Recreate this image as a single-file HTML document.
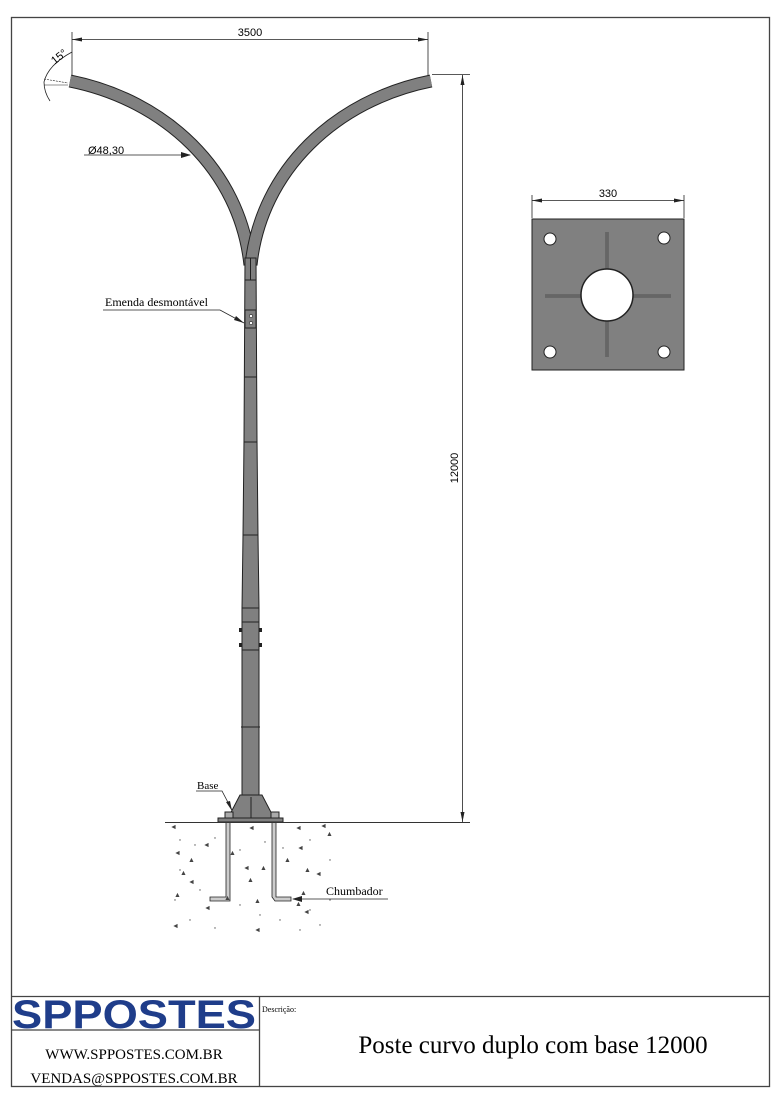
<!DOCTYPE html>
<html><head><meta charset="utf-8"><style>
body{margin:0;background:#fff;width:780px;height:1104px;overflow:hidden}
svg{display:block}
</style></head><body>
<svg width="780" height="1104" viewBox="0 0 780 1104" xmlns="http://www.w3.org/2000/svg" font-family="Liberation Sans, sans-serif">
<rect x="11.5" y="17.5" width="758" height="1069" fill="none" stroke="#444" stroke-width="1.3"/>
<line x1="11" y1="996.5" x2="770" y2="996.5" stroke="#444" stroke-width="1.3"/>
<line x1="259.5" y1="996" x2="259.5" y2="1087" stroke="#444" stroke-width="1.3"/>
<line x1="11" y1="1030" x2="259" y2="1030" stroke="#444" stroke-width="1.3"/>
<!-- logo -->
<text x="134" y="1028" text-anchor="middle" font-size="40" font-weight="bold" fill="#1f3d8a" font-family="Liberation Sans, sans-serif" textLength="244" lengthAdjust="spacingAndGlyphs">SPPOSTES</text>
<text x="134" y="1059" text-anchor="middle" font-size="15" font-family="Liberation Serif, serif">WWW.SPPOSTES.COM.BR</text>
<text x="134" y="1083" text-anchor="middle" font-size="15" font-family="Liberation Serif, serif">VENDAS@SPPOSTES.COM.BR</text>
<text x="262" y="1012" font-size="8" font-family="Liberation Serif, serif">Descrição:</text>
<text x="533" y="1053" text-anchor="middle" font-size="25" font-family="Liberation Serif, serif">Poste curvo duplo com base 12000</text>

<!-- arms -->
<path d="M70,81 C165,100 240,170 250,265" fill="none" stroke="#222" stroke-width="13"/>
<path d="M70,81 C165,100 240,170 250,265" fill="none" stroke="#808080" stroke-width="11"/>
<path d="M431,81 C336,100 261,170 251,265" fill="none" stroke="#222" stroke-width="13"/>
<path d="M431,81 C336,100 261,170 251,265" fill="none" stroke="#808080" stroke-width="11"/>
<!-- pole -->
<polygon points="245,258 256,258 257,440 258,535 259,608 259,805 262,812 240,812 242,805 242,608 243,535 244,440" fill="#808080" stroke="#222" stroke-width="1"/>
<line x1="250.5" y1="258" x2="250.5" y2="280" stroke="#222" stroke-width="1"/>
<g stroke="#222" stroke-width="1">
<line x1="245" y1="280" x2="256" y2="280"/>
<line x1="244" y1="377" x2="257" y2="377"/>
<line x1="244" y1="442" x2="257" y2="442"/>
<line x1="243" y1="535" x2="258" y2="535"/>
<line x1="242" y1="608" x2="259" y2="608"/>
<line x1="242" y1="622" x2="259" y2="622"/>
<line x1="242" y1="650" x2="259" y2="650"/>
<line x1="241" y1="727" x2="260" y2="727"/>
</g>
<rect x="245" y="310" width="11" height="18" fill="#808080" stroke="#222"/>
<circle cx="251" cy="316" r="1.6" fill="#fff" stroke="#222" stroke-width=".6"/>
<circle cx="251" cy="323" r="1.6" fill="#fff" stroke="#222" stroke-width=".6"/>
<rect x="239" y="628" width="3" height="4" fill="#222"/><rect x="259" y="628" width="3" height="4" fill="#222"/>
<rect x="239" y="643" width="3" height="4" fill="#222"/><rect x="259" y="643" width="3" height="4" fill="#222"/>
<!-- base -->
<polygon points="240,795 228,818 274,818 262,795" fill="#808080" stroke="#222"/>
<line x1="251" y1="797" x2="251" y2="818" stroke="#222"/>
<rect x="218" y="818" width="65" height="4" fill="#808080" stroke="#222"/>
<rect x="225" y="812" width="8" height="6" fill="#aaa" stroke="#222"/>
<rect x="271" y="812" width="8" height="6" fill="#aaa" stroke="#222"/>
<!-- anchors -->
<path d="M226,822 V897 H210 V901 H230 V822 Z" fill="#ccc" stroke="#222" stroke-width=".8"/>
<path d="M272,822 V897 L275,901 H291 V897 H276 V822 Z" fill="#ccc" stroke="#222" stroke-width=".8"/>
<!-- ground -->
<line x1="165" y1="822.5" x2="470" y2="822.5" stroke="#333"/>
<g fill="#444" font-size="7">
<text x="170" y="829">◄</text><text x="320" y="828">◄</text><text x="295" y="830">◄</text><text x="248" y="830">◄</text>
<text x="203" y="847">◄</text><text x="174" y="855">◄</text><text x="229" y="855">▲</text><text x="188" y="862">▲</text>
<text x="243" y="870">◄</text><text x="260" y="870">▲</text><text x="284" y="862">▲</text><text x="180" y="875">▲</text>
<text x="188" y="884">◄</text><text x="247" y="882">▲</text><text x="304" y="872">▲</text><text x="315" y="876">◄</text>
<text x="174" y="897">▲</text><text x="254" y="903">▲</text><text x="300" y="895">▲</text><text x="204" y="910">◄</text>
<text x="224" y="900">▲</text><text x="295" y="906">▲</text><text x="303" y="914">◄</text><text x="172" y="928">◄</text>
<text x="254" y="932">◄</text><text x="326" y="836">▲</text><text x="297" y="850">◄</text>
</g>
<g fill="#555">
<circle cx="180" cy="840" r=".7"/><circle cx="195" cy="845" r=".7"/><circle cx="215" cy="838" r=".7"/><circle cx="240" cy="850" r=".7"/>
<circle cx="265" cy="842" r=".7"/><circle cx="310" cy="840" r=".7"/><circle cx="330" cy="860" r=".7"/><circle cx="175" cy="900" r=".7"/>
<circle cx="200" cy="890" r=".7"/><circle cx="240" cy="905" r=".7"/><circle cx="260" cy="915" r=".7"/><circle cx="280" cy="920" r=".7"/>
<circle cx="320" cy="925" r=".7"/><circle cx="190" cy="920" r=".7"/><circle cx="215" cy="928" r=".7"/><circle cx="300" cy="930" r=".7"/>
<circle cx="330" cy="900" r=".7"/><circle cx="180" cy="870" r=".7"/><circle cx="283" cy="848" r=".7"/><circle cx="310" cy="910" r=".7"/>
</g>
<!-- labels -->
<text x="105" y="306" font-size="12" font-family="Liberation Serif, serif">Emenda desmontável</text>
<polyline points="103,310 220,310 244,323" fill="none" stroke="#222" stroke-width=".8"/>
<polygon points="244,323 236,316 234,320" fill="#222"/>
<text x="197" y="789" font-size="11" font-family="Liberation Serif, serif">Base</text>
<polyline points="196,791 222,791 232,810" fill="none" stroke="#222" stroke-width=".8"/>
<polygon points="232,811 226,802 230,801" fill="#222"/>
<text x="326" y="895" font-size="12" font-family="Liberation Serif, serif">Chumbador</text>
<line x1="293" y1="899" x2="388" y2="899" stroke="#222" stroke-width=".8"/>
<polygon points="292,899 302,896 302,902" fill="#222"/>
<text x="88" y="154" font-size="11">Ø48,30</text>
<line x1="84" y1="155" x2="190" y2="155" stroke="#222" stroke-width=".8"/>
<polygon points="191,155 181,152 181,158" fill="#222"/>
<!-- dims -->
<line x1="72" y1="32" x2="72" y2="75" stroke="#222" stroke-width=".8"/>
<line x1="428" y1="32" x2="428" y2="75" stroke="#222" stroke-width=".8"/>
<line x1="72" y1="39.5" x2="428" y2="39.5" stroke="#222" stroke-width=".8"/>
<polygon points="72,39.5 82,37.5 82,41.5" fill="#222"/><polygon points="428,39.5 418,37.5 418,41.5" fill="#222"/>
<text x="250" y="36" text-anchor="middle" font-size="11">3500</text>
<line x1="432" y1="74.5" x2="470" y2="74.5" stroke="#222" stroke-width=".8"/>
<line x1="462.5" y1="75" x2="462.5" y2="822" stroke="#222" stroke-width=".8"/>
<polygon points="462.5,75 460.5,85 464.5,85" fill="#222"/><polygon points="462.5,822 460.5,812 464.5,812" fill="#222"/>
<text x="458" y="468" text-anchor="middle" font-size="11" transform="rotate(-90 458 468)">12000</text>
<path d="M72,52 Q48,65 44,82 Q44,92 50,101" fill="none" stroke="#222" stroke-width=".8"/>
<line x1="44" y1="79" x2="68" y2="83" stroke="#222" stroke-width=".6" stroke-dasharray="2,1"/>
<line x1="44" y1="85" x2="68" y2="85" stroke="#222" stroke-width=".6"/>
<text x="60" y="60" font-size="11" transform="rotate(-38 60 58)" text-anchor="middle">15°</text>
<!-- plate -->
<line x1="532" y1="195" x2="532" y2="218" stroke="#222" stroke-width=".8"/>
<line x1="684" y1="195" x2="684" y2="218" stroke="#222" stroke-width=".8"/>
<line x1="532" y1="200.5" x2="684" y2="200.5" stroke="#222" stroke-width=".8"/>
<polygon points="532,200.5 542,198.5 542,202.5" fill="#222"/><polygon points="684,200.5 674,198.5 674,202.5" fill="#222"/>
<text x="608" y="197" text-anchor="middle" font-size="11">330</text>
<rect x="532" y="219" width="152" height="151" fill="#808080" stroke="#222"/>
<g stroke="#222" stroke-width="2.5"><line x1="607" y1="232" x2="607" y2="357"/><line x1="545" y1="296" x2="671" y2="296"/></g>
<g stroke="#aaa" stroke-width="1"><line x1="607" y1="232" x2="607" y2="357"/><line x1="545" y1="296" x2="671" y2="296"/></g>
<circle cx="607" cy="295" r="26" fill="#fff" stroke="#222" stroke-width="1.5"/>
<g fill="#fff" stroke="#222"><circle cx="550" cy="239" r="6"/><circle cx="664" cy="238" r="6"/><circle cx="550" cy="352" r="6"/><circle cx="664" cy="352" r="6"/></g>
</svg>
</body></html>
